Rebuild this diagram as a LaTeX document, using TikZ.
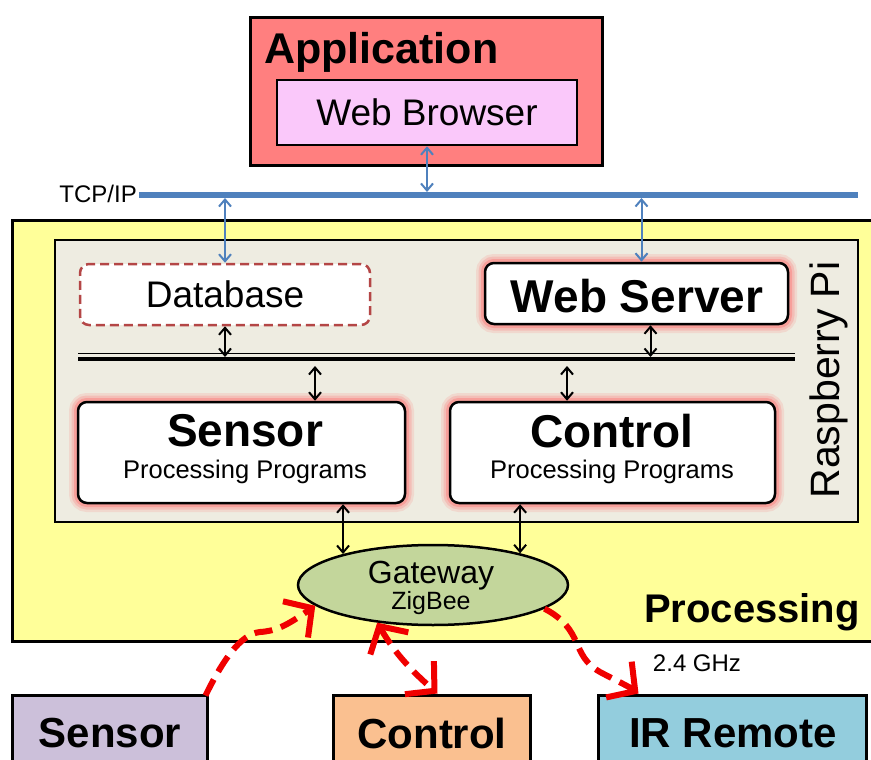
\documentclass[tikz,border=0pt]{standalone}
\usepackage{fontspec}
\setmainfont{Liberation Sans}
\usetikzlibrary{arrows.meta,shapes.geometric}

\definecolor{appred}{RGB}{255,127,127}
\definecolor{browserpink}{RGB}{250,200,250}
\definecolor{procyellow}{RGB}{255,255,153}
\definecolor{pigray}{RGB}{238,236,225}
\definecolor{dbred}{RGB}{180,70,70}
\definecolor{tcpblue}{RGB}{79,129,189}
\definecolor{gwgreen}{RGB}{195,214,155}
\definecolor{sensorlilac}{RGB}{204,192,218}
\definecolor{ctrlpeach}{RGB}{250,192,144}
\definecolor{irblue}{RGB}{147,205,221}
\definecolor{wirelessred}{RGB}{240,0,0}

\newcommand{\fs}[1]{\fontsize{#1}{#1}\selectfont}

\tikzset{
  box/.style={draw=black, line width=3pt, rectangle, inner sep=0pt},
  progbox/.style={draw=black, line width=2.5pt, rectangle, rounded corners=9pt, fill=white, inner sep=0pt},
  glowing/.style={
    preaction={draw=red!60, line width=18pt, opacity=0.15, rounded corners=9pt},
    preaction={draw=red!60, line width=13pt, opacity=0.22, rounded corners=9pt},
    preaction={draw=red!60, line width=8pt, opacity=0.35, rounded corners=9pt}},
  label/.style={inner sep=0pt},
  tcparrow/.style={draw=tcpblue, line width=2pt,
    {Straight Barb[length=7pt,width=12pt]}-{Straight Barb[length=7pt,width=12pt]}},
  busarrow/.style={draw=black, line width=2pt,
    {Straight Barb[length=7pt,width=12pt]}-{Straight Barb[length=7pt,width=12pt]}},
  radio/.style={draw=wirelessred, line width=6pt, dash pattern=on 18pt off 9pt, line cap=butt},
  radiohead/.style={-{Straight Barb[length=20pt,width=44pt,line width=6pt]}},
  radioboth/.style={{Straight Barb[length=20pt,width=44pt,line width=6pt]}-{Straight Barb[length=20pt,width=44pt,line width=6pt]}},
}

\begin{document}
\begin{tikzpicture}[x=1pt, y=-1pt]
\useasboundingbox (0,0) rectangle (871,760);
\clip (0,0) rectangle (871,760);
\fill[white] (0,0) rectangle (871,760);

% ---------------- application layer
\node[box, fill=appred, minimum width=352pt, minimum height=147pt] (app) at (426,91.5) {};
\node[label, anchor=base west, font=\fs{43}\bfseries] (apptitle) at (264,64) {Application};
\node[box, line width=2.5pt, fill=browserpink, minimum width=300pt, minimum height=65pt] (browser) at (427,112.5) {};
\node[label, font=\fs{37}] (browsertext) at (427,112) {Web Browser};

% ---------------- TCP/IP backbone
\coordinate (tcpL) at (139,195);
\coordinate (tcpR) at (858,195);
\draw[tcpblue, line width=6pt] (tcpL) -- (tcpR);
\node[label, anchor=east, font=\fs{24}] (tcplabel) at (137,194) {TCP/IP};
\coordinate (tcpTop) at (0,192);
\coordinate (tcpBot) at (0,198);

% ---------------- processing layer
\node[box, fill=procyellow, minimum width=870pt, minimum height=421pt] (proc) at (447,431) {};
\node[label, anchor=base east, font=\fs{40}\bfseries] (proctitle) at (860,622) {Processing};

\node[box, line width=2.5pt, fill=pigray, minimum width=803pt, minimum height=282pt] (pi) at (456.5,381) {};
\node[label, anchor=base, rotate=90, font=\fs{41}] (pitext) at (839,380) {Raspberry Pi};

\node[draw=dbred, line width=2.5pt, dash pattern=on 9pt off 5pt, rounded corners=9pt, fill=white,
      minimum width=290pt, minimum height=61pt, inner sep=0pt] (db) at (225,294.5) {};
\node[label, font=\fs{37}] (dbtext) at (225,294) {Database};

\node[progbox, glowing, minimum width=303pt, minimum height=61pt] (ws) at (636.5,293.5) {};
\node[label, font=\fs{46}\bfseries] (wstext) at (637,296) {Web Server};

% internal bus (thick + thin rule)
\coordinate (busL) at (78,359);
\coordinate (busR) at (795,359);
\draw[line width=4.5pt] (busL) -- (busR);
\draw[line width=1.5pt] ([yshift=5.5pt]busL) -- ([yshift=5.5pt]busR);
\coordinate (busTop) at (0,357);
\coordinate (busBot) at (0,366);

\node[progbox, glowing, minimum width=327pt, minimum height=101pt] (sensorP) at (241.5,452.5) {};
\node[label, font=\fs{46}\bfseries] (sensorPtitle) at (245,431) {Sensor};
\node[label, anchor=base, font=\fs{25.5}] (sensorPsub) at (245,478) {Processing Programs};

\node[progbox, glowing, minimum width=325pt, minimum height=101pt] (ctrlP) at (612.5,452.5) {};
\node[label, font=\fs{46}\bfseries] (ctrlPtitle) at (612,431) {Control};
\node[label, anchor=base, font=\fs{25.5}] (ctrlPsub) at (612,478) {Processing Programs};

\node[ellipse, draw=black, line width=2.5pt, fill=gwgreen, minimum width=270pt, minimum height=80pt, inner sep=0pt] (gw) at (433,585) {};
\node[label, anchor=base, font=\fs{32}] (gwtext) at (431,583) {Gateway};
\node[label, anchor=base, font=\fs{25}] (gwsub) at (431,609) {ZigBee};

% ---------------- devices
\node[box, fill=sensorlilac, minimum width=195pt, minimum height=90pt] (sensorD) at (109.5,740) {};
\node[label, font=\fs{42}\bfseries] (sensorDtext) at (110,733) {Sensor};
\node[box, fill=ctrlpeach, minimum width=197pt, minimum height=90pt] (ctrlD) at (431.5,740) {};
\node[label, font=\fs{42}\bfseries] (ctrlDtext) at (432,733) {Control};
\node[box, fill=irblue, minimum width=268pt, minimum height=90pt] (irD) at (732,740) {};
\node[label, font=\fs{42}\bfseries] (irDtext) at (733,733) {IR Remote};
\node[label, font=\fs{24}] (ghz) at (697,663) {2.4 GHz};

% ---------------- wired links
\draw[tcparrow] (browser.south) -- (browser.south |- tcpTop);
\draw[tcparrow] (db.north |- tcpBot) -- (db.north);
\draw[tcparrow] ([xshift=5pt]ws.north |- tcpBot) -- ([xshift=5pt]ws.north);

\draw[busarrow] (db.south) -- (db.south |- busTop);
\draw[busarrow] ([xshift=14pt]ws.south) -- ([xshift=14pt]ws.south |- busTop);
\draw[busarrow] ([xshift=73.5pt]sensorP.north |- busBot) -- ([xshift=73.5pt]sensorP.north);
\draw[busarrow] ([xshift=-45.5pt]ctrlP.north |- busBot) -- ([xshift=-45.5pt]ctrlP.north);

\draw[busarrow] (gw.161 |- sensorP.south) -- (gw.161);
\draw[busarrow] (gw.20 |- ctrlP.south) -- (gw.20);

% ---------------- ZigBee radio links
\draw[radio, radiohead] ([xshift=-3pt,yshift=-2pt]sensorD.north east)
  .. controls (222,662) and (240,634) .. (260,632)
  .. controls (276,631) and (286,626) .. (gw.190);
\draw[radio, radioboth] (gw.214)
  .. controls (392,648) and (405,665) .. ([xshift=6pt]ctrlD.north);
\draw[radio, radiohead] (gw.348)
  .. controls (585,630) and (570,655) .. (600,672)
  .. controls (615,680) and (628,686) .. ([xshift=42pt]irD.north west);
\end{tikzpicture}
\end{document}
